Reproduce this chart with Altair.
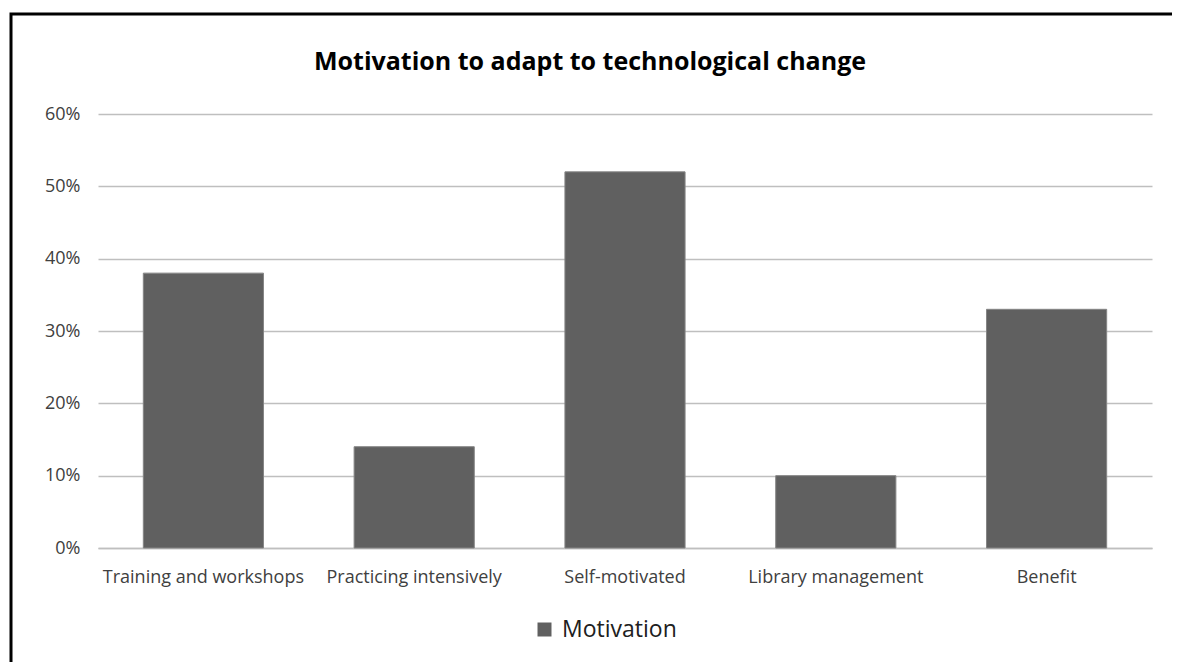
import altair as alt
import pandas as pd

categories = ["Training and workshops", "Practicing intensively", "Self-motivated",
              "Library management", "Benefit"]
values = [0.38, 0.14, 0.52, 0.10, 0.33]
series = ["Motivation"] * len(categories)
y_ticks = [0, 0.1, 0.2, 0.3, 0.4, 0.5, 0.6]

df = pd.DataFrame({"category": categories, "value": values, "series": series})

FONT = "Open Sans"
GRID = "#bfbfbf"
TXT = "#404040"

bars = alt.Chart(df).mark_bar(color="#606060", stroke="#858585", strokeWidth=1).encode(
    x=alt.X("category:N", sort=categories, title=None,
            scale=alt.Scale(paddingInner=0.43, paddingOuter=0.215),
            axis=alt.Axis(labelAngle=0, labelFont=FONT, labelFontSize=18, labelColor=TXT,
                          labelPadding=20, labelLimit=400, ticks=False, domainColor=GRID,
                          domainWidth=1.5, grid=False)),
    y=alt.Y("value:Q", title=None,
            scale=alt.Scale(domain=[0, 0.6]),
            axis=alt.Axis(values=y_ticks, format=".0%", labelFont=FONT, labelFontSize=18,
                          labelColor=TXT, labelPadding=18, ticks=False, domain=False,
                          gridColor=GRID, gridWidth=1.5)),
    color=alt.Color("series:N", scale=alt.Scale(range=["#606060"]),
                    legend=alt.Legend(title=None, orient="none", legendX=435, legendY=504,
                                      direction="horizontal", symbolType="square",
                                      symbolSize=196, symbolStrokeWidth=0,
                                      labelFont=FONT, labelFontSize=23, labelColor="#202020",
                                      labelOffset=6, padding=0)),
)

border = alt.Chart(pd.DataFrame({"a": [0]})).mark_rect(
    fill="white", fillOpacity=0, stroke="black", strokeWidth=3
).encode(
    x=alt.value(-87), x2=alt.value(1300), y=alt.value(-100), y2=alt.value(700)
)

chart = alt.layer(border, bars).properties(
    width=1054, height=434,
    padding={"left": 90, "top": 106, "right": 20, "bottom": 114},
    autosize=alt.AutoSizeParams(type="none"),
    background="white",
    title=alt.TitleParams("Motivation to adapt to technological change",
                          font=FONT, fontSize=25, fontWeight="bold", color="#000000",
                          anchor="middle", dx=-35, baseline="alphabetic", offset=-82),
).configure_view(stroke=None)

chart.save("out.html", embed_options={"renderer": "svg", "actions": False})
